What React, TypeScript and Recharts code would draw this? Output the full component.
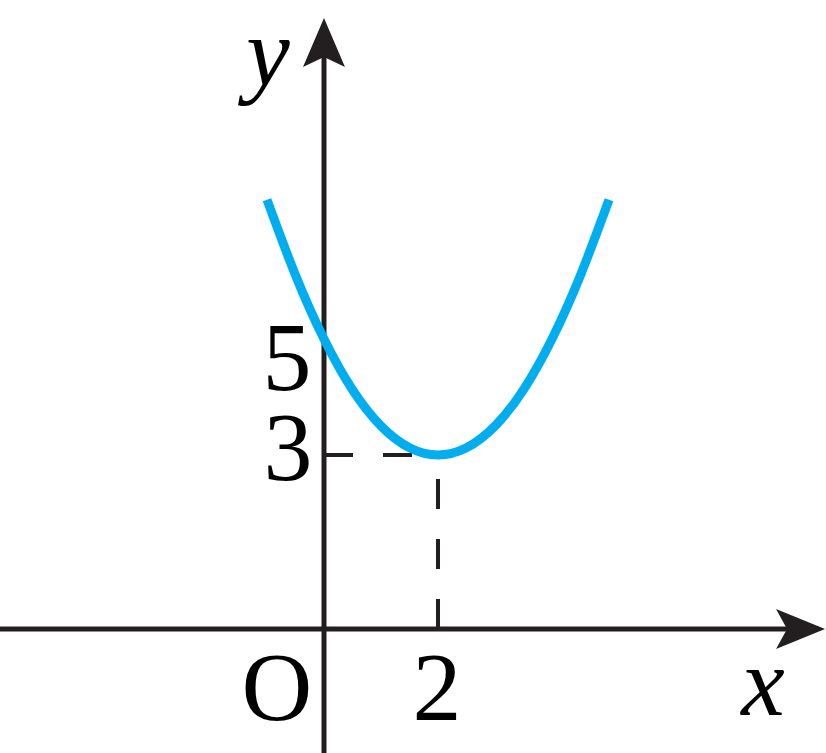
import { LineChart, Line, XAxis, YAxis, ReferenceLine, ReferenceDot } from "recharts";

// parabola points
const xs = [-1, -0.5, 0, 0.5, 1, 1.5, 2, 2.5, 3, 3.5, 4, 4.5, 5];
const ys = [7.4, 6.1, 5, 4.125, 3.5, 3.125, 3, 3.125, 3.5, 4.125, 5, 6.1, 7.4];

const vertex = { x: 2, y: 3 };

const tickLabels = [
  { text: "5", x: 0, y: 5, dx: -37, dy: 51, italic: false },
  { text: "3", x: 0, y: 3, dx: -36, dy: 25, italic: false },
  { text: "O", x: 0, y: 0, dx: -47, dy: 91, italic: false },
  { text: "2", x: 2, y: 0, dx: -1, dy: 91, italic: false },
  { text: "x", x: 7.7, y: 0, dx: 0, dy: 86, italic: true },
  { text: "y", x: 0, y: 9.38, dx: -56, dy: 0, italic: true },
];

const data = xs.map((x, i) => ({ x, y: ys[i] }));

const X_DOMAIN: [number, number] = [-5.684, 8.807];
const Y_DOMAIN: [number, number] = [-2.138, 10.845];

const INK = "#231f20";
const BLUE = "#00aeef";
const FONT = '"Liberation Serif", "DejaVu Serif", serif';

export default function App() {
  return (
    <div style={{ position: "absolute", left: 0, top: 0 }}>
      <LineChart width={826} height={753} data={data} margin={{ top: 0, right: 0, bottom: 0, left: 0 }}>
        <XAxis dataKey="x" type="number" domain={X_DOMAIN} allowDataOverflow hide />
        <YAxis type="number" domain={Y_DOMAIN} allowDataOverflow hide />

        {/* dashed guides to the vertex */}
        <ReferenceLine
          segment={[{ x: 0, y: vertex.y }, { x: vertex.x, y: vertex.y }]}
          stroke={INK}
          strokeWidth={4}
          strokeDasharray="29 30"
        />
        <ReferenceLine
          segment={[{ x: vertex.x, y: 0 }, { x: vertex.x, y: vertex.y }]}
          stroke={INK}
          strokeWidth={4}
          strokeDasharray="30 30"
        />

        {/* axes through the origin */}
        <ReferenceLine segment={[{ x: X_DOMAIN[0], y: 0 }, { x: 8.3, y: 0 }]} stroke={INK} strokeWidth={5} />
        <ReferenceLine segment={[{ x: 0, y: Y_DOMAIN[0] }, { x: 0, y: 10.0 }]} stroke={INK} strokeWidth={5} />

        <ReferenceDot
          x={8.79}
          y={0}
          r={0}
          shape={(p: any) => (
            <polygon
              points={`${p.cx},${p.cy} ${p.cx - 49},${p.cy - 20} ${p.cx - 38},${p.cy} ${p.cx - 49},${p.cy + 20}`}
              fill={INK}
            />
          )}
        />
        <ReferenceDot
          x={0}
          y={10.534}
          r={0}
          shape={(p: any) => (
            <polygon
              points={`${p.cx},${p.cy} ${p.cx - 21},${p.cy + 49} ${p.cx},${p.cy + 39} ${p.cx + 21},${p.cy + 49}`}
              fill={INK}
            />
          )}
        />

        <Line
          dataKey="y"
          type="natural"
          stroke={BLUE}
          strokeWidth={9}
          strokeLinecap="butt"
          dot={false}
          activeDot={false}
          isAnimationActive={false}
        />

        {tickLabels.map((t) => (
          <ReferenceDot
            key={t.text}
            x={t.x}
            y={t.y}
            r={0}
            shape={(p: any) => (
              <text
                x={p.cx + t.dx}
                y={p.cy + t.dy}
                textAnchor="middle"
                fontFamily={FONT}
                fontStyle={t.italic ? "italic" : "normal"}
                fontSize={98}
                fill="#000"
              >
                {t.text}
              </text>
            )}
          />
        ))}
      </LineChart>
    </div>
  );
}
